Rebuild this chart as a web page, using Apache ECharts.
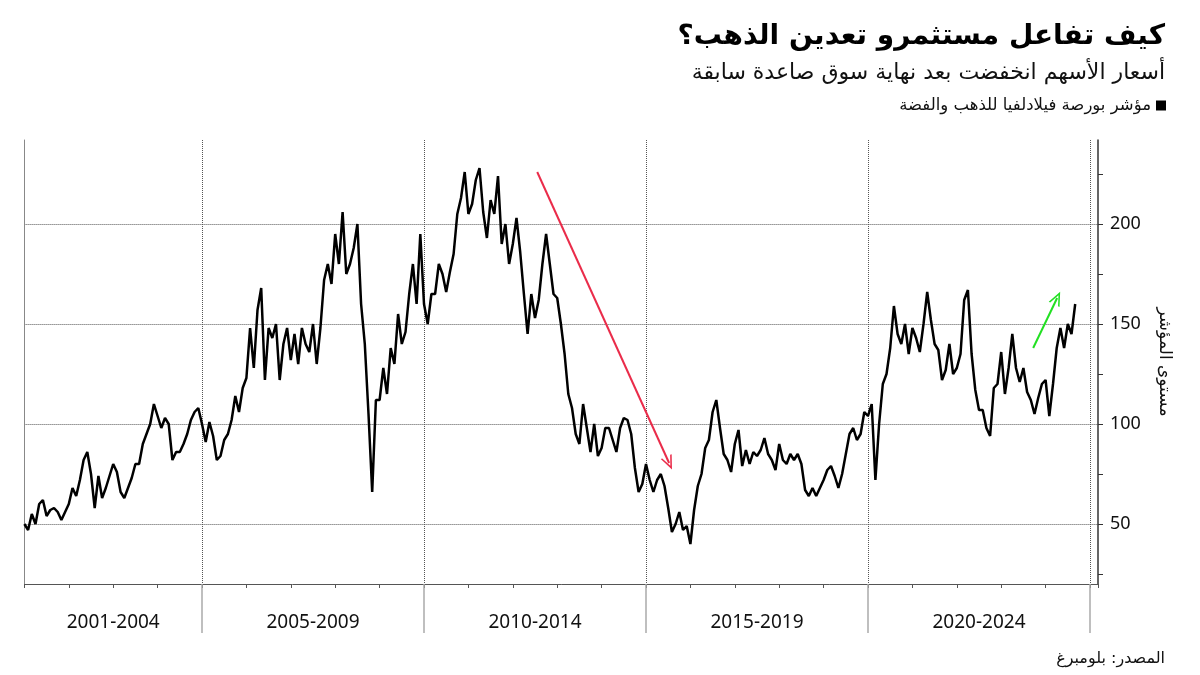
<!DOCTYPE html>
<html><head><meta charset="utf-8">
<script src="https://cdn.jsdelivr.net/npm/echarts@6/dist/echarts.min.js"></script>
<style>html,body{margin:0;padding:0;background:#fff}#c{width:1200px;height:675px}</style>
</head><body><div id="c"></div>
<script>
const titleText = 'كيف تفاعل مستثمرو تعدين الذهب؟';
const subtitleText = 'أسعار الأسهم انخفضت بعد نهاية سوق صاعدة سابقة';
const seriesName = 'مؤشر بورصة فيلادلفيا للذهب والفضة';
const yAxisName = 'مستوى المؤشر';
const sourceText = 'المصدر: بلومبرغ';

const startYear = 2001; // first monthly value = January 2001
const periodLabels = ['2001-2004', '2005-2009', '2010-2014', '2015-2019', '2020-2024'];
const periodCenters = [2003, 2007.5, 2012.5, 2017.5, 2022.5];
const periodBounds = [2005, 2010, 2015, 2020, 2025];
const yTickValues = [25, 50, 75, 100, 125, 150, 175, 200, 225];

// Philadelphia Gold & Silver Index, monthly readings (Jan 2001 - Sep 2024)
const v2001 = [50, 47, 55, 50, 60, 62, 54, 57, 58, 56, 52, 56];
const v2002 = [60, 68, 64, 72, 82, 86, 75, 58, 74, 63, 68, 74];
const v2003 = [80, 76, 66, 63, 68, 73, 80, 80, 90, 95, 100, 110];
const v2004 = [104, 98, 103, 100, 82, 86, 86, 90, 95, 102, 106, 108];
const v2005 = [100, 91, 101, 94, 82, 84, 92, 95, 102, 114, 106, 118];
const v2006 = [123, 148, 128, 157, 168, 122, 148, 143, 150, 122, 140, 148];
const v2007 = [132, 145, 130, 148, 140, 136, 150, 130, 148, 172, 180, 170];
const v2008 = [195, 180, 206, 175, 180, 188, 200, 160, 140, 105, 66, 112];
const v2009 = [112, 128, 115, 138, 130, 155, 140, 146, 165, 180, 160, 195];
const v2010 = [160, 150, 165, 165, 180, 175, 166, 176, 185, 205, 213, 226];
const v2011 = [205, 210, 222, 228, 206, 193, 212, 205, 224, 190, 200, 180];
const v2012 = [190, 203, 186, 165, 145, 165, 153, 162, 180, 195, 180, 165];
const v2013 = [163, 150, 135, 115, 108, 95, 90, 110, 98, 86, 100, 84];
const v2014 = [88, 98, 98, 92, 86, 98, 103, 102, 95, 78, 66, 70];
const v2015 = [80, 72, 66, 72, 75, 69, 58, 46, 50, 56, 47, 49];
const v2016 = [40, 57, 69, 75, 88, 92, 106, 112, 98, 85, 82, 76];
const v2017 = [90, 97, 79, 87, 80, 86, 84, 87, 93, 85, 82, 77];
const v2018 = [90, 82, 80, 85, 82, 85, 80, 67, 64, 68, 64, 68];
const v2019 = [72, 77, 79, 74, 68, 75, 85, 95, 98, 92, 95, 106];
const v2020 = [104, 110, 72, 100, 120, 125, 138, 159, 145, 140, 150, 135];
const v2021 = [148, 143, 136, 150, 166, 152, 140, 137, 122, 127, 140, 125];
const v2022 = [128, 135, 162, 167, 135, 117, 107, 107, 98, 94, 118, 120];
const v2023 = [136, 115, 128, 145, 128, 121, 128, 116, 112, 105, 113, 120];
const v2024 = [122, 104, 120, 138, 148, 138, 150, 145, 160];

const redArrow = [[2012.55, 226], [2015.52, 80.5]];
const greenArrow = [[2023.72, 138], [2024.26, 163]];

const allValues = [].concat(v2001, v2002, v2003, v2004, v2005, v2006, v2007, v2008,
  v2009, v2010, v2011, v2012, v2013, v2014, v2015, v2016, v2017, v2018, v2019,
  v2020, v2021, v2022, v2023, v2024);
const lineData = allValues.map((v, i) => [startYear + i / 12, v]);

const X_MIN = 2001, X_MAX = 2025.18, Y_MIN = 20, Y_MAX = 242;
const numFont = 'Noto Sans';
const arFont = 'DejaVu Sans';
const chevron = 'path://M0,10 L5,0 L10,10 L8.6,10 L5,2.8 L1.4,10 Z';

const chart = echarts.init(document.getElementById('c'), null, {renderer: 'canvas'});
chart.setOption({
  animation: false,
  backgroundColor: '#fff',
  title: [
    {text: titleText, right: 30, top: 18,
     textStyle: {fontFamily: arFont, fontSize: 28, fontWeight: 'bold', color: '#000'}},
    {text: subtitleText, right: 30, top: 57,
     textStyle: {fontFamily: arFont, fontSize: 22, fontWeight: 'normal', color: '#111'}},
    {text: sourceText, right: 30, top: 646,
     textStyle: {fontFamily: arFont, fontSize: 16, fontWeight: 'normal', color: '#111'}}
  ],
  legend: {
    data: [seriesName], right: 29, top: 92, icon: 'rect', itemWidth: 10, itemHeight: 10,
    align: 'right', itemGap: 6,
    textStyle: {fontFamily: arFont, fontSize: 16.5, color: '#111'}
  },
  grid: {left: 24.4, right: 102, top: 140, bottom: 91, containLabel: false},
  xAxis: [
    {type: 'value', min: X_MIN, max: X_MAX, interval: 1,
     axisLine: {show: true, lineStyle: {color: '#555', width: 1}},
     axisTick: {show: true, length: 4, lineStyle: {color: '#555'}},
     axisLabel: {show: false}, splitLine: {show: false}},
    {type: 'value', min: X_MIN, max: X_MAX, position: 'bottom',
     axisLine: {show: false},
     axisTick: {show: true, customValues: periodBounds, length: 49, lineStyle: {color: '#aaa', width: 1.5}},
     axisLabel: {show: true, customValues: periodCenters, margin: 29,
       formatter: v => periodLabels[periodCenters.indexOf(v)] || '',
       fontFamily: numFont, fontSize: 19, color: '#111'},
     splitLine: {show: true,
       lineStyle: {type: 'dotted', color: '#555', width: 1}}}
  ],
  yAxis: [
    {type: 'value', min: Y_MIN, max: Y_MAX, position: 'right', splitNumber: 5,
     axisLine: {show: true, lineStyle: {color: '#333', width: 1.5}},
     axisTick: {show: false},
     axisLabel: {show: true, showMinLabel: false, showMaxLabel: false, margin: 12,
       fontFamily: numFont, fontSize: 18, color: '#111'},
     splitLine: {show: true, showMinLine: false, showMaxLine: false,
       lineStyle: {type: 'dotted', color: '#555', width: 1}},
     name: yAxisName, nameLocation: 'middle', nameRotate: -90, nameGap: 58,
     nameTextStyle: {fontFamily: arFont, fontSize: 17, color: '#111'}},
    {type: 'value', min: Y_MIN, max: Y_MAX, position: 'right',
     axisLine: {show: false},
     axisTick: {show: true, customValues: yTickValues, length: 5, lineStyle: {color: '#333', width: 1}},
     axisLabel: {show: false}, splitLine: {show: false}},
    {type: 'value', min: Y_MIN, max: Y_MAX, position: 'left',
     axisLine: {show: true, lineStyle: {color: '#888', width: 1}},
     axisTick: {show: false}, axisLabel: {show: false}, splitLine: {show: false}}
  ],
  series: [{
    name: seriesName, type: 'line', xAxisIndex: 0, yAxisIndex: 0,
    data: lineData, showSymbol: false, symbol: 'none',
    lineStyle: {color: '#000', width: 2.5}, itemStyle: {color: '#000'},
    silent: true,
    markLine: {
      silent: true, symbol: ['none', chevron], symbolSize: [12, 14],
      label: {show: false},
      data: [
        [{coord: redArrow[0], lineStyle: {color: '#ea2c4a', width: 2, type: 'solid'}}, {coord: redArrow[1]}],
        [{coord: greenArrow[0], lineStyle: {color: '#22e022', width: 2, type: 'solid'}}, {coord: greenArrow[1]}]
      ]
    }
  }]
});
</script>
</body></html>
